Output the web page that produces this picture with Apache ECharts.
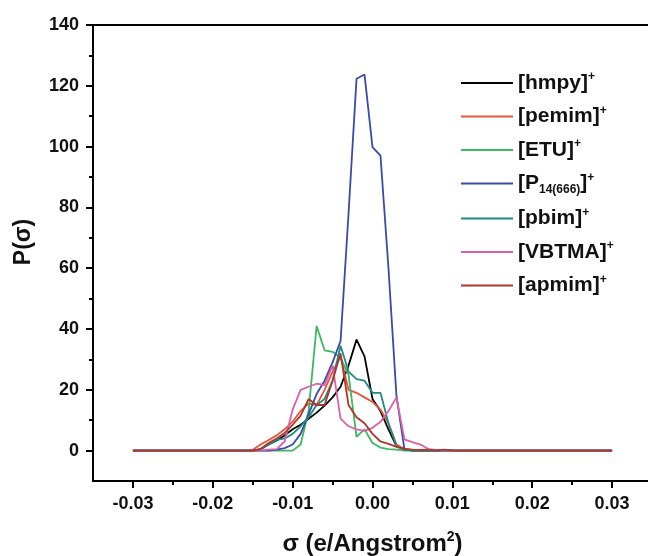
<!DOCTYPE html>
<html>
<head>
<meta charset="utf-8">
<script src="https://cdn.jsdelivr.net/npm/echarts@6/dist/echarts.min.js"></script>
<style>
html,body{margin:0;padding:0;background:#fff;}
#chart{width:648px;height:556px;}
</style>
</head>
<body>
<div id="chart"></div>
<script>
const sigma = [-0.030,-0.029,-0.028,-0.027,-0.026,-0.025,-0.024,-0.023,-0.022,-0.021,
  -0.020,-0.019,-0.018,-0.017,-0.016,-0.015,-0.014,-0.013,-0.012,-0.011,
  -0.010,-0.009,-0.008,-0.007,-0.006,-0.005,-0.004,-0.003,-0.002,-0.001,
  0.000,0.001,0.002,0.003,0.004,0.005,0.006,0.007,0.008,0.009,
  0.010,0.011,0.012,0.013,0.014,0.015,0.016,0.017,0.018,0.019,
  0.020,0.021,0.022,0.023,0.024,0.025,0.026,0.027,0.028,0.029,0.030];

const zL = [0,0,0,0,0,0,0,0,0,0,0,0,0,0,0];
const zR = [0,0,0,0,0,0,0,0,0,0,0,0,0,0,0,0,0,0];

const hmpy = zL.concat([0,0.5,2,3.3,5,7,8.5,10.5,12.5,14.8,17.5,21,28,36.5,31,17,13,7,1.5,0.3,0.1,0,0,0,0,0,0,0], zR);
const pemim = zL.concat([0.3,2,3.5,5,7,9.5,13,15.5,15,20,26,31,20,19,17.5,16,13.5,9,2,0.5,0.2,0,0,0,0,0,0,0], zR);
const etu = zL.concat([0,0,0,0,0,0,2,13,41,33,32.5,30.5,25,4.5,7,2.5,1,0.5,0.3,0,0,0,0,0,0,0,0,0], zR);
const p14 = zL.concat([0,0,0,0.3,0.8,2,5.5,12,18.6,23,29,36,78,122.3,123.7,99.8,97,60,18,0.5,0,0,0,0,0,0,0,0], zR);
const pbim = zL.concat([0,0.5,2,3.5,4,5.5,8,11,15,17,23,34.5,26,23.5,23,19,19,9,1.5,0.3,0,0,0,0,0,0,0,0], zR);
const vbtma = zL.concat([0,0,0.3,0.5,3,13.5,20,21,22,21.5,28,10.5,8,7,6.5,7.5,9.5,13,17.5,3.7,2.8,2,0.5,0.2,0,0,0,0], zR);
const apmim = zL.concat([0,0.5,2.5,4,5.8,8.5,11.5,17,15,15,23,32,15,11,9,5.5,3,2.2,1.2,0.6,0.3,0.2,0.3,0.1,0.3,0.1,0,0], zR);

const seriesNames = ['[hmpy]+','[pemim]+','[ETU]+','[P14(666)]+','[pbim]+','[VBTMA]+','[apmim]+'];
const seriesColors = ['#000000','#e8553a','#3cb860','#3b4aa5','#1e8c86','#d860ac','#b0362a'];
const seriesData = [hmpy, pemim, etu, p14, pbim, vbtma, apmim];

const xMajor = [-0.03,-0.02,-0.01,0,0.01,0.02,0.03];
const xMinor = [-0.025,-0.015,-0.005,0.005,0.015,0.025];
const yMajor = [0,20,40,60,80,100,120,140];
const yMinor = [10,30,50,70,90,110,130];

const legendRich = {
  '[hmpy]+': '{t|[hmpy]}{sup|+}',
  '[pemim]+': '{t|[pemim]}{sup|+}',
  '[ETU]+': '{t|[ETU]}{sup|+}',
  '[P14(666)]+': '{t|[P}{sub|14(666)}{t|]}{sup|+}',
  '[pbim]+': '{t|[pbim]}{sup|+}',
  '[VBTMA]+': '{t|[VBTMA]}{sup|+}',
  '[apmim]+': '{t|[apmim]}{sup|+}'
};

const FF = '"Liberation Sans", Arial, sans-serif';
const chart = echarts.init(document.getElementById('chart'), null, {renderer:'canvas'});

const xMin = -0.035, xMax = 0.035, yMin = -10, yMax = 140;

const option = {
  animation: false,
  backgroundColor: '#ffffff',
  grid: {show:false, left:93, top:25, width:559, height:456, outerBoundsMode:'none', containLabel:false},
  legend: {
    orient:'vertical', left:461, top:71, padding:0, icon:'rect', itemWidth:52, itemHeight:2, itemGap:11,
    data: seriesNames,
    formatter: n => legendRich[n],
    textStyle: {
      color:'#000', fontFamily:FF,
      rich: {
        t: {fontSize:21, fontWeight:'bold', fontFamily:FF, color:'#111', lineHeight:24},
        sup: {fontSize:12, fontWeight:'bold', fontFamily:FF, color:'#111', lineHeight:11, verticalAlign:'top'},
        sub: {fontSize:12, fontWeight:'bold', fontFamily:FF, color:'#111', lineHeight:11, verticalAlign:'bottom'}
      }
    }
  },
  xAxis: [
    {
      type:'value', min:xMin, max:xMax, position:'bottom',
      name:'{t|σ (e/Angstrom}{sup|2}{t|)}', nameLocation:'middle', nameGap:49,
      nameTextStyle:{color:'#111', rich:{
        t:{fontSize:24, fontWeight:'bold', fontFamily:FF, color:'#111', lineHeight:28},
        sup:{fontSize:14, fontWeight:'bold', fontFamily:FF, color:'#111', lineHeight:14, verticalAlign:'top'}
      }},
      axisLine:{show:true, onZero:false, lineStyle:{color:'#000', width:2}},
      axisTick:{show:true, customValues:xMajor, length:7, lineStyle:{color:'#000', width:2}},
      axisLabel:{customValues:xMajor, formatter:v => v.toFixed(2), margin:14, fontSize:18, fontWeight:'bold', fontFamily:FF, color:'#111'},
      splitLine:{show:false}
    },
    {
      type:'value', min:xMin, max:xMax, position:'bottom',
      axisLine:{show:false, onZero:false},
      axisTick:{show:true, customValues:xMinor, length:4, lineStyle:{color:'#000', width:2}},
      axisLabel:{show:false},
      splitLine:{show:false}
    },
    {
      type:'value', min:xMin, max:xMax, position:'top',
      axisLine:{show:true, onZero:false, lineStyle:{color:'#000', width:2}},
      axisTick:{show:false},
      axisLabel:{show:false},
      splitLine:{show:false}
    }
  ],
  yAxis: [
    {
      type:'value', min:yMin, max:yMax, position:'left',
      name:'P(σ)', nameLocation:'middle', nameGap:58, nameRotate:90,
      nameTextStyle:{fontSize:23, fontWeight:'bold', fontFamily:FF, color:'#111', padding:[0,0,0,22]},
      axisLine:{show:true, onZero:false, lineStyle:{color:'#000', width:2}},
      axisTick:{show:true, customValues:yMajor, length:7, lineStyle:{color:'#000', width:2}},
      axisLabel:{customValues:yMajor, margin:14, fontSize:18, fontWeight:'bold', fontFamily:FF, color:'#111'},
      splitLine:{show:false}
    },
    {
      type:'value', min:yMin, max:yMax, position:'left',
      axisLine:{show:false, onZero:false},
      axisTick:{show:true, customValues:yMinor, length:4, lineStyle:{color:'#000', width:2}},
      axisLabel:{show:false},
      splitLine:{show:false}
    }
  ],
  series: seriesNames.map((n, k) => ({
    name:n, type:'line', xAxisIndex:0, yAxisIndex:0,
    symbol:'none', smooth:false,
    color: seriesColors[k],
    lineStyle:{width:1.8, color:seriesColors[k]},
    data: sigma.map((s, i) => [s, seriesData[k][i]])
  }))
};
chart.setOption(option);
</script>
</body>
</html>
